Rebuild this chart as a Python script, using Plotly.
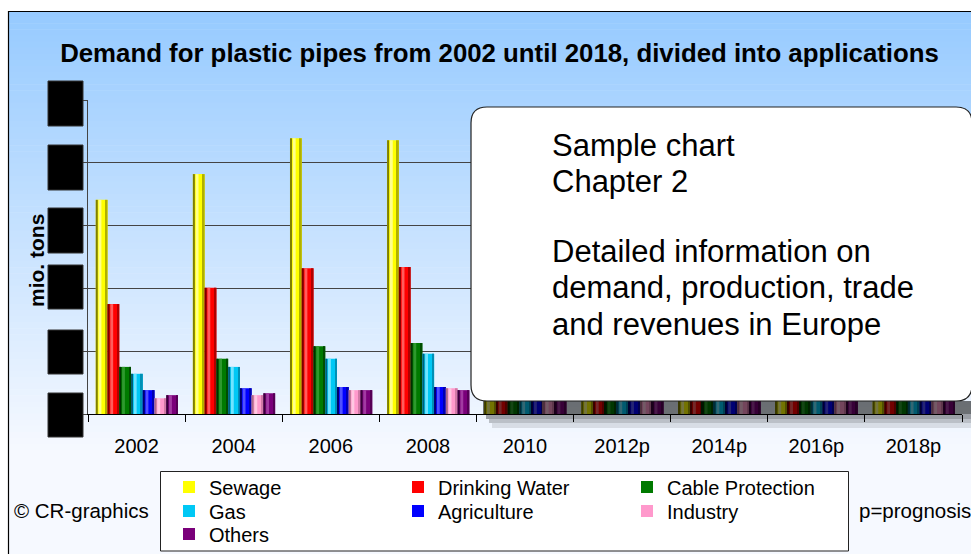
import plotly.graph_objects as go

# ---------------- data ----------------
years = ["2002", "2004", "2006", "2008", "2010", "2012p", "2014p", "2016p", "2018p"]
series_names = ["Sewage", "Drinking Water", "Cable Protection", "Gas",
                "Agriculture", "Industry", "Others"]
sewage = [3.41, 3.82, 4.39, 4.36, 4.05, 4.20, 4.35, 4.50, 4.65]
drinking_water = [1.75, 2.01, 2.32, 2.34, 2.20, 2.25, 2.30, 2.35, 2.40]
cable_protection = [0.75, 0.88, 1.08, 1.13, 1.00, 1.05, 1.10, 1.15, 1.20]
gas = [0.64, 0.75, 0.88, 0.96, 0.90, 0.93, 0.96, 1.00, 1.03]
agriculture = [0.38, 0.41, 0.43, 0.43, 0.40, 0.42, 0.43, 0.45, 0.46]
industry = [0.25, 0.30, 0.38, 0.41, 0.40, 0.41, 0.42, 0.44, 0.45]
others = [0.30, 0.33, 0.38, 0.38, 0.36, 0.37, 0.38, 0.39, 0.40]
values = [sewage, drinking_water, cable_protection, gas, agriculture, industry, others]
y_ticks = [0, 1, 2, 3, 4, 5]
box_lines = ["Sample chart", "Chapter 2", "Detailed information on",
             "demand, production, trade", "and revenues in Europe"]

# ---------------- styles ----------------
W, H = 971, 554
L, R, T, B = 88, 962, 100, 414
FONT = "Liberation Sans, Arial, sans-serif"

# (main, dark edge, highlight, right edge)
colors = [
    ("#FFFF00", "#7F7F00", "#FFFF8C", "#B0B000"),
    ("#FF0000", "#7A0000", "#FF5C5C", "#B00000"),
    ("#007A00", "#003000", "#2E992E", "#004D00"),
    ("#00C8F5", "#005F7A", "#70E4FF", "#0090B5"),
    ("#0000FF", "#00006E", "#5050FF", "#0000B0"),
    ("#FF99CC", "#A86A88", "#FFC8E2", "#D07AA6"),
    ("#7A007A", "#3A003A", "#A23AA2", "#560056"),
]
legend_of = ["legend", "legend", "legend", "legend2", "legend2", "legend2", "legend3"]


def pxx(x):
    return (x - L) / (R - L)


def pxy(y):
    return (B - y) / (B - T)


fig = go.Figure()

bw = 0.121
start = -0.42
for i, (name, vals) in enumerate(zip(series_names, values)):
    main, dark, light, redge = colors[i]
    o = start + i * bw
    fig.add_trace(go.Bar(x=years, y=vals, name=name, width=bw, offset=o,
                         marker=dict(color=main, line=dict(width=0)),
                         legend=legend_of[i]))
    # cylindrical shading strips
    for frac0, frac1, c in [(0.0, 0.17, dark), (0.24, 0.48, light), (0.84, 1.0, redge)]:
        fig.add_trace(go.Bar(x=years, y=vals, width=bw * (frac1 - frac0),
                             offset=o + bw * frac0, showlegend=False, hoverinfo="skip",
                             marker=dict(color=c, line=dict(width=0)),
                             legend=legend_of[i]))

shapes = []
# background gradient
y_top, y_fade = 11, 450
c0 = (150, 202, 255)
c1 = (246, 249, 255)
nb = 90
for k in range(nb):
    ya = y_top + (H + 6 - y_top) * k / nb
    yb = y_top + (H + 6 - y_top) * (k + 1) / nb
    t = min(1.0, max(0.0, ((ya + yb) / 2 - y_top) / (y_fade - y_top)))
    col = tuple(round(c0[j] + (c1[j] - c0[j]) * t) for j in range(3))
    shapes.append(dict(type="rect", xref="paper", yref="paper", layer="below",
                       x0=pxx(8), x1=pxx(W + 5), y0=pxy(ya), y1=pxy(yb + 0.5),
                       line=dict(width=0), fillcolor="rgb(%d,%d,%d)" % col))
# outer border (left and top)
shapes.append(dict(type="line", xref="paper", yref="paper", layer="below",
                   x0=pxx(8.5), x1=pxx(8.5), y0=pxy(11), y1=pxy(H + 5),
                   line=dict(color="#000000", width=1.2)))
shapes.append(dict(type="line", xref="paper", yref="paper", layer="below",
                   x0=pxx(8), x1=pxx(W + 5), y0=pxy(11.5), y1=pxy(11.5),
                   line=dict(color="#000000", width=1.2)))

# black boxes hiding y tick labels
for y0, y1 in [(81, 126), (145, 190), (208, 253), (265, 309), (330, 374), (393, 437)]:
    shapes.append(dict(type="rect", xref="paper", yref="paper", layer="above",
                       x0=pxx(48), x1=pxx(83), y0=pxy(y0), y1=pxy(y1),
                       line=dict(color="#333333", width=1), fillcolor="#000000"))

# shadow beneath the text box
for (xa, ya, yb, op) in [(483, 401, 414, 0.55), (486, 414, 419, 0.35),
                         (489, 419, 423, 0.22), (492, 423, 428, 0.10)]:
    shapes.append(dict(type="rect", xref="paper", yref="paper", layer="above",
                       x0=pxx(xa), x1=pxx(W + 5), y0=pxy(ya), y1=pxy(yb),
                       line=dict(width=0), fillcolor="rgba(0,0,0,%.2f)" % op))

# rounded white text box
bx0, bx1, by0, by1, r = 471, 972, 107, 401, 16
pts = [("M", bx0 + r, by0), ("L", bx1 - r, by0), ("Q", bx1, by0, bx1, by0 + r),
       ("L", bx1, by1 - r), ("Q", bx1, by1, bx1 - r, by1), ("L", bx0 + r, by1),
       ("Q", bx0, by1, bx0, by1 - r), ("L", bx0, by0 + r), ("Q", bx0, by0, bx0 + r, by0)]
path = ""
for p in pts:
    cmd = p[0]
    coords = p[1:]
    segs = []
    for j in range(0, len(coords), 2):
        segs.append("%.5f,%.5f" % (pxx(coords[j]), pxy(coords[j + 1])))
    path += cmd + " ".join(segs) + " "
path += "Z"
shapes.append(dict(type="path", xref="paper", yref="paper", layer="above", path=path,
                   fillcolor="#FFFFFF", line=dict(color="#222222", width=1.2)))

# legend frame
shapes.append(dict(type="rect", xref="paper", yref="paper", layer="above",
                   x0=pxx(160.5), x1=pxx(848.5), y0=pxy(471.5), y1=pxy(551),
                   line=dict(color="#222222", width=1), fillcolor="#FFFFFF"))

annotations = [
    dict(text="<b>mio. tons</b>", textangle=-90, x=pxx(36), y=pxy(261), xref="paper", yref="paper",
         xanchor="center", yanchor="middle",
         showarrow=False, font=dict(size=21, color="#000000", family=FONT)),
    dict(text="© CR-graphics", x=pxx(12), y=pxy(510), xref="paper", yref="paper",
         xanchor="left", yanchor="middle", showarrow=False,
         font=dict(size=20.5, color="#000000", family=FONT)),
    dict(text="p=prognosis", x=pxx(857), y=pxy(510), xref="paper", yref="paper",
         xanchor="left", yanchor="middle", showarrow=False,
         font=dict(size=20.5, color="#000000", family=FONT)),
]
# text box lines (vertical centres of each line in pixels)
for txt, yc in zip(box_lines, [145, 181, 251, 287, 324]):
    annotations.append(dict(text=txt, x=pxx(550), y=pxy(yc), xref="paper", yref="paper",
                            xanchor="left", yanchor="middle", align="left", showarrow=False,
                            font=dict(size=31, color="#000000", family=FONT)))

leg_common = dict(orientation="h", xref="container", yref="container", xanchor="left",
                  yanchor="middle", entrywidth=184, entrywidthmode="pixels",
                  bgcolor="rgba(0,0,0,0)", borderwidth=0, traceorder="normal",
                  font=dict(size=20, color="#000000", family=FONT))

fig.update_layout(
    width=W, height=H,
    margin=dict(l=L, r=W - R, t=T, b=H - B, pad=0),
    paper_bgcolor="#FFFFFF", plot_bgcolor="rgba(0,0,0,0)",
    barmode="overlay",
    showlegend=True,
    title=dict(text="<b>Demand for plastic pipes from 2002 until 2018, divided into applications</b>",
               x=499.5 / W, y=1 - 52.5 / H, xanchor="center", yanchor="middle",
               font=dict(size=25.8, color="#000000", family=FONT)),
    xaxis=dict(type="category", categoryorder="array", categoryarray=years,
               range=[-0.5, len(years) - 0.5], showline=True, linecolor="#000000", linewidth=1.2,
               ticks="outside", tickson="boundaries", ticklen=7, tickcolor="#000000",
               ticklabelstandoff=14, showgrid=False,
               tickfont=dict(size=20, color="#000000", family=FONT)),
    yaxis=dict(range=[0, 5], tickvals=y_ticks, showticklabels=False, showline=True,
               linecolor="#444444", linewidth=1.2, ticks="outside", ticklen=5,
               tickcolor="#444444", showgrid=True, gridcolor="#444444", gridwidth=1.2,
               zeroline=False),
    shapes=shapes,
    annotations=annotations,
    legend=dict(x=169 / W, y=1 - 487 / H, **leg_common),
    legend2=dict(x=169 / W, y=1 - 511 / H, **leg_common),
    legend3=dict(x=169 / W, y=1 - 534 / H, **leg_common),
)

fig.write_html("out.html", config={"displayModeBar": False},
               post_script="document.body.style.margin='0px';document.body.style.overflow='hidden';")
